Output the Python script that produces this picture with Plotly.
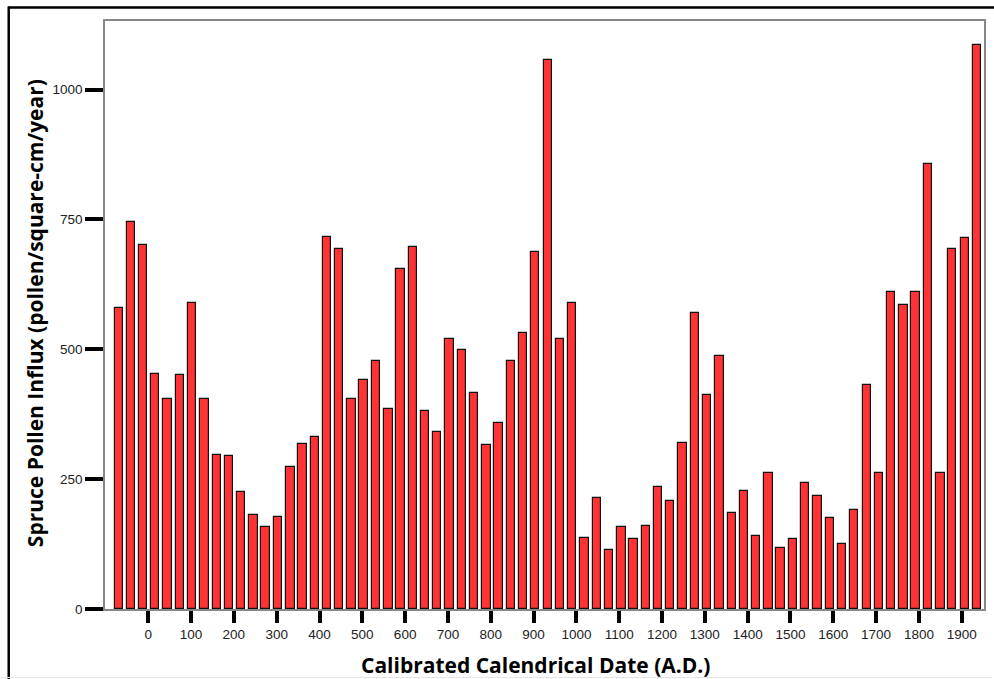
import plotly.graph_objects as go

# Calibrated dates (A.D.) of each sample
dates = [-69, -41, -12, 16, 45, 74, 102, 131, 160, 188,
         217, 246, 274, 303, 332, 360, 389, 417, 446, 475,
         503, 532, 561, 589, 618, 647, 675, 704, 733, 761,
         790, 818, 847, 876, 904, 933, 962, 990, 1019, 1048,
         1076, 1105, 1133, 1162, 1191, 1219, 1248, 1277, 1305, 1334,
         1363, 1391, 1420, 1449, 1477, 1506, 1534, 1563, 1592, 1620,
         1649, 1678, 1706, 1735, 1764, 1792, 1821, 1850, 1878, 1907,
         1935]

# Spruce pollen influx (pollen/square-cm/year)
influx = [579, 745, 700, 452, 405, 450, 590, 405, 296, 294,
          226, 181, 158, 178, 273, 317, 332, 717, 694, 405,
          440, 478, 385, 654, 696, 382, 340, 520, 499, 416,
          315, 358, 478, 532, 688, 1056, 520, 590, 137, 214,
          114, 158, 135, 160, 234, 208, 319, 570, 412, 488,
          184, 228, 141, 262, 117, 135, 243, 217, 175, 126,
          190, 431, 262, 611, 585, 611, 856, 262, 693, 715,
          1085]

x_ticks = list(range(0, 2000, 100))
y_ticks = [0, 250, 500, 750, 1000]

fig = go.Figure()
fig.add_trace(go.Bar(
    x=dates, y=influx, width=19.5,
    marker=dict(color="#ff3333", line=dict(color="#111111", width=1.2)),
    hoverinfo="x+y",
))

W, H = 994, 679
L, R, T, B = 105, 8, 21, 70
pw, ph = W - L - R, H - T - B

def px(xp):
    return (xp - L) / pw

def py(yp):
    return (H - B - yp) / ph

fig.update_layout(
    width=W, height=H,
    margin=dict(l=L, r=R, t=T, b=B, pad=0),
    paper_bgcolor="white", plot_bgcolor="white",
    showlegend=False,
    bargap=0,
    xaxis=dict(
        range=[-101, 1952], tickvals=x_ticks, ticktext=[str(v) for v in x_ticks],
        ticks="outside", ticklen=12, tickwidth=4, tickcolor="black",
        showline=True, linecolor="#888888", linewidth=1.5, mirror=True,
        showgrid=False, zeroline=False,
        tickfont=dict(family="Liberation Sans, Arial", size=13.5, color="#222222"),
    ),
    yaxis=dict(
        range=[0, 1132], tickvals=y_ticks, ticktext=[str(v) for v in y_ticks],
        ticks="outside", ticklen=18, tickwidth=4, tickcolor="black",
        showline=True, linecolor="#888888", linewidth=1.5, mirror=True,
        showgrid=False, zeroline=False,
        tickfont=dict(family="Liberation Sans, Arial", size=13.5, color="#222222"),
    ),
    annotations=[
        dict(text="<b>Calibrated Calendrical Date (A.D.)</b>", xref="paper", yref="paper",
             x=px(536), y=py(665), xanchor="center", yanchor="middle", showarrow=False,
             font=dict(family="Open Sans", size=21, color="black")),
        dict(text="<b>Spruce Pollen Influx (pollen/square-cm/year)</b>", xref="paper", yref="paper",
             x=px(35), y=py(313), xanchor="center", yanchor="middle", showarrow=False,
             textangle=-90,
             font=dict(family="Open Sans", size=21, color="black")),
    ],
    shapes=[
        dict(type="line", xref="paper", yref="paper", x0=px(8), x1=px(1000),
             y0=py(7.5), y1=py(7.5), line=dict(color="black", width=2.5)),
        dict(type="line", xref="paper", yref="paper", x0=px(8.5), x1=px(8.5),
             y0=py(6.5), y1=py(679), line=dict(color="black", width=2.5)),
        dict(type="line", xref="paper", yref="paper", x0=px(0), x1=px(994),
             y0=py(677.5), y1=py(677.5), line=dict(color="#e6e6e6", width=1)),
    ],
)

fig.write_html("out.html")
